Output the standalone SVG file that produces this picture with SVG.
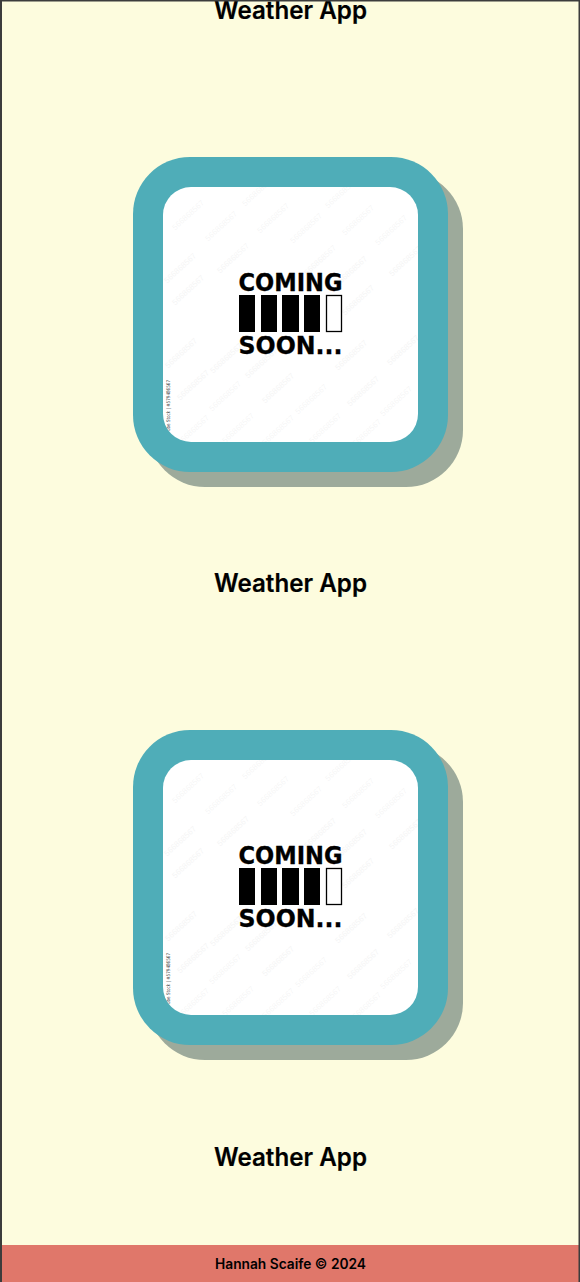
<svg xmlns="http://www.w3.org/2000/svg" width="580" height="1282" viewBox="0 0 580 1282">
<style>
.h{font-family:"Inter","Liberation Sans",sans-serif;font-weight:600;font-size:25px;fill:#000;text-anchor:middle;stroke:#000;stroke-width:.2}
.f{font-family:"Inter","Liberation Sans",sans-serif;font-weight:600;font-size:14px;fill:#000;text-anchor:middle}
.c{font-family:"DejaVu Sans",sans-serif;font-weight:700;font-size:24px;fill:#000;stroke:#000;stroke-width:.3}
.v{font-family:"DejaVu Sans",sans-serif;font-size:5px;fill:#444}
.w text{font-family:"Liberation Sans",sans-serif;font-size:8px;fill:#000;opacity:.04;text-anchor:middle}
</style>
<defs>
<clipPath id="inner"><rect x="163" y="187" width="255" height="255" rx="28"/></clipPath>
<g id="card">
<rect x="148" y="172" width="315" height="315" rx="57" fill="#9daa9b"/>
<rect x="133" y="157" width="315" height="315" rx="57" fill="#4fadb8"/>
<rect x="163" y="187" width="255" height="255" rx="28" fill="#fff"/>
<g class="w" clip-path="url(#inner)">
<text transform="translate(190,217) rotate(-43)">566868567</text>
<text transform="translate(223,228) rotate(-43)">566868567</text>
<text transform="translate(275,220) rotate(-43)">566868567</text>
<text transform="translate(308,230) rotate(-43)">566868567</text>
<text transform="translate(360,222) rotate(-43)">566868567</text>
<text transform="translate(393,232) rotate(-43)">566868567</text>
<text transform="translate(260,193) rotate(-43)">566868567</text>
<text transform="translate(343,195) rotate(-43)">566868567</text>
<text transform="translate(182,270) rotate(-43)">566868567</text>
<text transform="translate(235,260) rotate(-43)">566868567</text>
<text transform="translate(322,262) rotate(-43)">566868567</text>
<text transform="translate(353,273) rotate(-43)">566868567</text>
<text transform="translate(407,263) rotate(-43)">566868567</text>
<text transform="translate(190,292) rotate(-43)">566868567</text>
<text transform="translate(360,302) rotate(-43)">566868567</text>
<text transform="translate(183,355) rotate(-43)">566868567</text>
<text transform="translate(195,387) rotate(-43)">566868567</text>
<text transform="translate(228,360) rotate(-43)">566868567</text>
<text transform="translate(227,398) rotate(-43)">566868567</text>
<text transform="translate(280,390) rotate(-43)">566868567</text>
<text transform="translate(313,401) rotate(-43)">566868567</text>
<text transform="translate(263,365) rotate(-43)">566868567</text>
<text transform="translate(353,357) rotate(-43)">566868567</text>
<text transform="translate(365,393) rotate(-43)">566868567</text>
<text transform="translate(398,403) rotate(-43)">566868567</text>
<text transform="translate(405,352) rotate(-43)">566868567</text>
<text transform="translate(195,432) rotate(-43)">566868567</text>
<text transform="translate(240,430) rotate(-43)">566868567</text>
<text transform="translate(280,432) rotate(-43)">566868567</text>
<text transform="translate(327,430) rotate(-43)">566868567</text>
<text transform="translate(367,436) rotate(-43)">566868567</text>
</g>
<text class="c" x="238.500" y="290.500" textLength="104" lengthAdjust="spacingAndGlyphs">COMING</text>
<rect x="239" y="295" width="16" height="37"/>
<rect x="261" y="295" width="16" height="37"/>
<rect x="282" y="295" width="17" height="37"/>
<rect x="304" y="295" width="16" height="37"/>
<rect x="326.500" y="295.500" width="15" height="36" fill="#fff" stroke="#000" stroke-width="1.300"/>
<text class="c" x="238.500" y="353.500" textLength="104" lengthAdjust="spacingAndGlyphs">SOON...</text>
<g clip-path="url(#inner)"><text class="v" transform="translate(170,431) rotate(-90)" textLength="51" lengthAdjust="spacingAndGlyphs">obe Stock | #579486567</text></g>
</g>
</defs>
<rect width="580" height="1282" fill="#fdfcde"/>
<g id="title-1"><text class="h" x="290.500" y="19" textLength="153" lengthAdjust="spacingAndGlyphs">Weather App</text></g>
<g id="card-1"><use href="#card"/></g>
<g id="title-2"><text class="h" x="290.500" y="592" textLength="153" lengthAdjust="spacingAndGlyphs">Weather App</text></g>
<g id="card-2"><use href="#card" y="573"/></g>
<g id="title-3"><text class="h" x="290.500" y="1166" textLength="153" lengthAdjust="spacingAndGlyphs">Weather App</text></g>
<g id="footer">
<rect y="1245" width="580" height="37" fill="#e0776a"/>
<text class="f" x="290.500" y="1269" textLength="151" lengthAdjust="spacingAndGlyphs">Hannah Scaife © 2024</text>
</g>
<g id="frame" fill="#3c3c3c">
<rect width="580" height="1.500"/>
<rect width="2" height="1282"/>
<rect x="578.500" width="1.500" height="1282"/>
</g>
<g id="connectors"/>
</svg>
